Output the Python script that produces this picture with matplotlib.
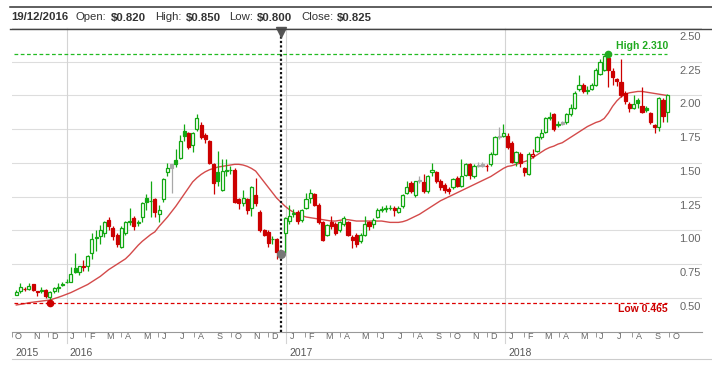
import matplotlib
matplotlib.use('Agg')
import matplotlib.pyplot as plt
import matplotlib.dates as mdates
import matplotlib.transforms as mtransforms
from matplotlib.lines import Line2D
import numpy as np
import pandas as pd

plt.rcParams['font.family'] = ['Liberation Sans', 'DejaVu Sans']

# weekly candles, first week starting 5 Oct 2015
first_week = '2015-10-05'
opens = [
    .525, .555, .57, .568, .60, .55, .555, .56, .51, .55,
    .572, .605, .615, .62, .72, .69, .74, .74, .83, .945,
    .96, .98, 1.08, 1.02, .97, .88, .98, 1.065, 1.09, 1.055,
    1.10, 1.24, 1.215, 1.23, 1.12, 1.23, 1.43, 1.49, 1.52, 1.54,
    1.74, 1.72, 1.63, 1.75, 1.78, 1.71, 1.66, 1.49, 1.43, 1.30,
    1.44, 1.45, 1.45, 1.23, 1.20, 1.23, 1.17, 1.26, 1.14, 1.00,
    .99, .935, .94, .82, .98, 1.07, 1.125, 1.14, 1.08, 1.17,
    1.24, 1.27, 1.19, 1.06, .97, 1.06, 1.05, 1.00, 1.05, 1.06,
    .95, .97, .92, .97, 1.06, 1.05, 1.10, 1.155, 1.16, 1.165,
    1.17, 1.14, 1.18, 1.28, 1.35, 1.26, 1.375, 1.36, 1.29, 1.43,
    1.43, 1.37, 1.34, 1.31, 1.32, 1.39, 1.33, 1.41, 1.49, 1.40,
    1.485, 1.49, 1.48, 1.49, 1.57, 1.70, 1.70, 1.70, 1.65, 1.51,
    1.57, 1.46, 1.42, 1.55, 1.59, 1.69, 1.73, 1.835, 1.86, 1.785,
    1.80, 1.80, 1.86, 1.91, 2.05, 2.08, 2.035, 2.05, 2.08, 2.16,
    2.19, 2.28, 2.18, 2.12, 2.10, 2.02, 1.94, 1.91, 1.97, 1.92,
    1.91, 1.87, 1.78, 1.77, 1.97, 1.88]
highs = [
    .56, .61, .58, .61, .605, .555, .585, .565, .555, .58,
    .61, .62, .64, .73, .83, .74, .78, .82, .98, 1.00,
    1.04, 1.07, 1.10, 1.03, .98, 1.03, 1.07, 1.17, 1.11, 1.08,
    1.21, 1.27, 1.37, 1.24, 1.19, 1.39, 1.50, 1.49, 1.60, 1.71,
    1.79, 1.73, 1.73, 1.86, 1.80, 1.72, 1.67, 1.50, 1.59, 1.53,
    1.53, 1.48, 1.46, 1.24, 1.30, 1.24, 1.33, 1.39, 1.15, 1.01,
    1.00, .96, .945, .85, 1.10, 1.19, 1.16, 1.15, 1.16, 1.28,
    1.31, 1.28, 1.20, 1.07, 1.05, 1.11, 1.06, 1.07, 1.11, 1.07,
    .97, .98, .98, 1.11, 1.07, 1.09, 1.17, 1.18, 1.19, 1.19,
    1.18, 1.18, 1.27, 1.37, 1.37, 1.37, 1.40, 1.42, 1.41, 1.50,
    1.44, 1.38, 1.35, 1.32, 1.39, 1.40, 1.53, 1.50, 1.50, 1.49,
    1.51, 1.51, 1.49, 1.58, 1.70, 1.77, 1.79, 1.72, 1.66, 1.59,
    1.58, 1.47, 1.58, 1.60, 1.70, 1.75, 1.84, 1.88, 1.87, 1.81,
    1.81, 1.87, 1.94, 2.03, 2.15, 2.09, 2.07, 2.09, 2.20, 2.27,
    2.30, 2.31, 2.20, 2.13, 2.27, 2.03, 1.95, 2.00, 1.98, 2.06,
    1.92, 1.88, 1.79, 1.99, 1.98, 2.01]
lows = [
    .52, .54, .555, .56, .555, .515, .54, .50, .465, .54,
    .545, .59, .61, .615, .685, .67, .70, .70, .79, .85,
    .90, .95, 1.00, .93, .88, .87, .97, 1.04, 1.00, 1.03,
    1.06, 1.15, 1.10, 1.10, 1.06, 1.21, 1.40, 1.28, 1.47, 1.53,
    1.66, 1.60, 1.58, 1.74, 1.68, 1.65, 1.49, 1.27, 1.33, 1.29,
    1.40, 1.42, 1.20, 1.16, 1.18, 1.12, 1.11, 1.18, .99, .96,
    .88, .90, .79, .80, .83, 1.05, 1.10, 1.05, 1.06, 1.16,
    1.20, 1.18, 1.05, .92, .96, 1.01, .97, .99, 1.03, .96,
    .87, .88, .91, .96, 1.00, 1.02, 1.09, 1.14, 1.14, 1.15,
    1.11, 1.13, 1.17, 1.27, 1.28, 1.25, 1.35, 1.28, 1.28, 1.40,
    1.35, 1.30, 1.28, 1.27, 1.31, 1.32, 1.32, 1.40, 1.38, 1.39,
    1.47, 1.47, 1.44, 1.48, 1.56, 1.68, 1.69, 1.60, 1.50, 1.48,
    1.47, 1.40, 1.41, 1.54, 1.58, 1.68, 1.72, 1.82, 1.74, 1.77,
    1.78, 1.79, 1.85, 1.90, 2.03, 2.02, 2.01, 2.04, 2.07, 2.15,
    2.18, 2.06, 2.08, 2.07, 1.99, 1.94, 1.88, 1.90, 1.91, 1.87,
    1.88, 1.79, 1.72, 1.74, 1.80, 1.80]
closes = [
    .545, .58, .568, .59, .56, .545, .56, .515, .545, .575,
    .578, .598, .62, .68, .69, .735, .73, .81, .94, .95,
    1.00, 1.06, 1.03, .96, .90, 1.02, 1.06, 1.07, 1.03, 1.06,
    1.20, 1.21, 1.22, 1.14, 1.15, 1.38, 1.46, 1.46, 1.49, 1.66,
    1.70, 1.62, 1.72, 1.83, 1.69, 1.68, 1.50, 1.35, 1.37, 1.44,
    1.445, 1.446, 1.21, 1.20, 1.24, 1.15, 1.32, 1.20, 1.00, .97,
    .91, .94, .84, .825, 1.09, 1.11, 1.13, 1.07, 1.15, 1.23,
    1.28, 1.19, 1.06, .93, 1.04, 1.03, .98, 1.06, 1.09, .97,
    .93, .90, .97, 1.05, 1.03, 1.08, 1.15, 1.16, 1.165, 1.17,
    1.15, 1.17, 1.26, 1.32, 1.29, 1.37, 1.37, 1.29, 1.40, 1.45,
    1.37, 1.32, 1.30, 1.29, 1.38, 1.33, 1.40, 1.49, 1.41, 1.48,
    1.48, 1.48, 1.475, 1.57, 1.69, 1.69, 1.72, 1.62, 1.51, 1.58,
    1.50, 1.43, 1.57, 1.565, 1.69, 1.72, 1.83, 1.84, 1.75, 1.79,
    1.79, 1.86, 1.91, 2.02, 2.08, 2.03, 2.04, 2.08, 2.19, 2.25,
    2.29, 2.19, 2.14, 2.11, 2.00, 1.96, 1.91, 1.94, 1.945, 1.88,
    1.89, 1.80, 1.77, 1.98, 1.85, 2.00]
# 20 week moving average as drawn on the chart
ma20 = [
    .448, .453, .458, .465, .469, .473, .477, .481, .485, .495,
    .505, .516, .528, .540, .555, .570, .585, .600, .620, .640,
    .660, .685, .710, .730, .750, .770, .790, .820, .855, .890,
    .920, .945, .970, .990, 1.03, 1.065, 1.10, 1.14, 1.18, 1.225,
    1.27, 1.315, 1.36, 1.39, 1.415, 1.435, 1.45, 1.46, 1.47, 1.475,
    1.48, 1.485, 1.49, 1.49, 1.485, 1.475, 1.46, 1.44, 1.40, 1.36,
    1.32, 1.28, 1.24, 1.21, 1.18, 1.155, 1.135, 1.12, 1.11, 1.10,
    1.095, 1.09, 1.085, 1.08, 1.075, 1.07, 1.07, 1.075, 1.08, 1.08,
    1.075, 1.07, 1.07, 1.07, 1.07, 1.07, 1.07, 1.07, 1.065, 1.06,
    1.06, 1.06, 1.065, 1.075, 1.09, 1.105, 1.12, 1.14, 1.16, 1.18,
    1.20, 1.22, 1.235, 1.25, 1.265, 1.28, 1.295, 1.31, 1.325, 1.34,
    1.355, 1.37, 1.385, 1.40, 1.42, 1.44, 1.46, 1.475, 1.48, 1.49,
    1.50, 1.51, 1.52, 1.54, 1.56, 1.58, 1.60, 1.615, 1.625, 1.64,
    1.65, 1.67, 1.69, 1.71, 1.73, 1.75, 1.77, 1.785, 1.80, 1.81,
    1.83, 1.87, 1.92, 1.96, 1.99, 2.01, 2.02, 2.025, 2.03, 2.03,
    2.025, 2.02, 2.015, 2.01, 2.005, 2.00]
cross_idx = 63  # week under the crosshair (19/12/2016)
month_letters = 'JFMAMJJASOND'

GREEN = '#12a812'
RED = '#cc0000'
GREY = '#a8a8a8'

W, H = 712, 368
fig = plt.figure(figsize=(W / 100, H / 100), dpi=100)
ax_l, ax_r, ax_t, ax_b = 11.5, 702, 28, 332
ax = fig.add_axes([ax_l / W, 1 - ax_b / H, (ax_r - ax_l) / W, (ax_b - ax_t) / H])
x0 = mdates.datestr2num('2015-10-06')
ax.set_xlim(x0, mdates.datestr2num('2018-11-25'))
ax.set_ylim(0.248, 2.5)

dates = pd.date_range(first_week, periods=len(closes), freq='7D')
xs = mdates.date2num(dates) + 4

o = np.array(opens)
c = np.array(closes)
prev = np.concatenate([[o[0]], c[:-1]])
diff = np.round(c - prev, 4)
cols = [GREEN if d > 0 else RED if d < 0 else GREY for d in diff]
faces = ['white' if cc > oo else col for oo, cc, col in zip(o, c, cols)]

# grid
for v in np.arange(0.5, 2.51, 0.25):
    ax.axhline(v, color='#dddddd', lw=0.8, zorder=0)
blend_xd = mtransforms.blended_transform_factory(ax.transData, ax.transAxes)
for yr in [2016, 2017, 2018]:
    ax.plot([mdates.datestr2num(f'{yr}-01-01')] * 2, [-11 / 304, 1], transform=blend_xd,
            color='#d4d4d4', lw=0.8, clip_on=False, zorder=0)

ax.plot(xs, ma20, color='#cc2b2b', lw=1.0, alpha=0.85, zorder=2)

ax.vlines(xs, lows, highs, colors=cols, lw=0.9, zorder=3)
ax.bar(xs, np.abs(c - o), bottom=np.minimum(o, c), width=5.2, color=faces,
       edgecolor=cols, linewidth=0.9, zorder=4)

# high / low markers
hi_i = int(np.argmax(highs))
lo_i = int(np.argmin(lows))
hi, lo = highs[hi_i], lows[lo_i]
ax.hlines(hi, x0, xs[-1], colors='#22bb22', lw=0.9, linestyles=(0, (3, 2)), zorder=5)
ax.hlines(lo, x0, xs[-1], colors='#dd0000', lw=0.9, linestyles=(0, (3, 2)), zorder=5)
ax.plot(xs[hi_i], hi, 'o', ms=4.5, color='#22aa22', zorder=6)
ax.plot(xs[lo_i], lo, 'o', ms=4.5, color='#cc0000', zorder=6)
ax.text(xs[-1] + 1, hi, f'High {hi:.3f}', transform=mtransforms.offset_copy(ax.transData, fig=fig, y=8, units='dots'),
        ha='right', va='center', fontsize=7.5, fontweight='bold', color='#1faa1f')
ax.text(xs[-1] + 1, lo, f'Low {lo:.3f}', transform=mtransforms.offset_copy(ax.transData, fig=fig, y=-6, units='dots'),
        ha='right', va='center', fontsize=7.5, fontweight='bold', color='#cc0000')

# crosshair
xc = xs[cross_idx]
ax.plot([xc, xc], [0, (ax_b - 35) / (ax_b - ax_t)], transform=blend_xd, color='#111111',
        lw=1.6, ls=(0, (1, 1)), clip_on=False, zorder=7)
ax.plot(xc, (ax_b - 31.5) / (ax_b - ax_t), 'v', ms=7, color='#555555', transform=blend_xd,
        clip_on=False, zorder=8)
ax.plot(xc, closes[cross_idx], 'o', ms=5.5, color='#777777', zorder=8)

# y labels under their gridlines on the right
blend_ad = mtransforms.blended_transform_factory(ax.transAxes, ax.transData)
ylab_tr = mtransforms.offset_copy(blend_ad, fig=fig, x=-1, y=-9, units='dots')
for v in np.arange(0.5, 2.51, 0.25):
    ax.text(1, v, f'{v:.2f}', transform=ylab_tr, ha='right', va='center', fontsize=8, color='#666666')

# x axis: month letters, even month ticks, years
for sp in ['top', 'left', 'right']:
    ax.spines[sp].set_visible(False)
ax.spines['bottom'].set_color('#999999')
ax.spines['bottom'].set_linewidth(0.8)
ax.set_yticks([])
months = pd.date_range('2015-10-01', '2018-10-01', freq='MS')
ax.set_xticks([mdates.date2num(m) for m in months if m.month % 2 == 0])
ax.tick_params(axis='x', length=3.5, width=0.7, color='#999999', labelbottom=False)
mon_tr = mtransforms.offset_copy(blend_xd, fig=fig, x=3.5, y=-4.5, units='dots')
for m in months:
    ax.text(mdates.date2num(m), 0, month_letters[m.month - 1], transform=mon_tr,
            ha='left', va='center', fontsize=6.5, color='#666666')
yr_tr = mtransforms.offset_copy(blend_xd, fig=fig, x=3, y=-21, units='dots')
ax.text(x0, 0, '2015', transform=mtransforms.offset_copy(blend_xd, fig=fig, x=1, y=-21, units='dots'),
        ha='left', va='center', fontsize=7.5, color='#555555')
for yr in [2016, 2017, 2018]:
    ax.text(mdates.datestr2num(f'{yr}-01-01'), 0, str(yr), transform=yr_tr,
            ha='left', va='center', fontsize=7.5, color='#555555')

# frame lines
fig.add_artist(Line2D([12 / W, 1], [1 - 359 / H] * 2, color='#cccccc', lw=0.8))
fig.add_artist(Line2D([10 / W, 1], [1 - 7 / H] * 2, color='#333333', lw=1.1))
fig.add_artist(Line2D([10 / W, 1], [1 - 29 / H] * 2, color='#444444', lw=1.0))

# header for the crosshair week
hdr = [(11, dates[cross_idx].strftime('%d/%m/%Y'), 'bold'),
       (76, 'Open:', 'normal'), (111, f'${opens[cross_idx]:.3f}', 'bold'),
       (155, 'High:', 'normal'), (186, f'${highs[cross_idx]:.3f}', 'bold'),
       (229, 'Low:', 'normal'), (257, f'${lows[cross_idx]:.3f}', 'bold'),
       (301, 'Close:', 'normal'), (337, f'${closes[cross_idx]:.3f}', 'bold')]
for px, s, wt in hdr:
    fig.text(px / W, 1 - 17.5 / H, s, ha='left', va='center', fontsize=8.2, fontweight=wt, color='#333333')

fig.savefig('out.png', dpi=100)
